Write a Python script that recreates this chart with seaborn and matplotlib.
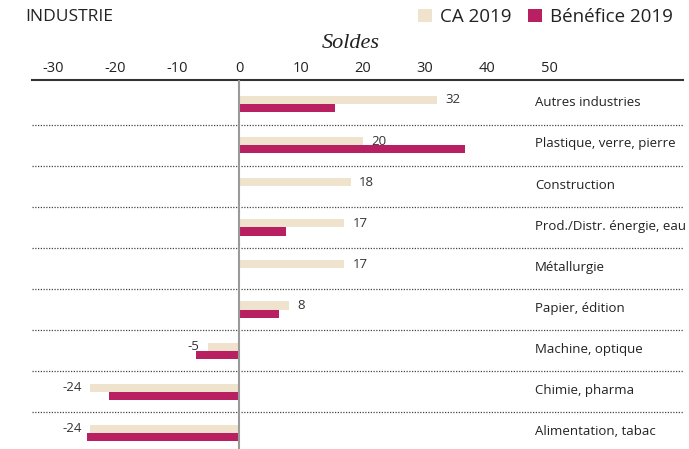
import numpy as np
import pandas as pd
import matplotlib.pyplot as plt
import matplotlib.transforms as mtransforms
from matplotlib.patches import Patch
import seaborn as sns

# data
categories = ["Autres industries", "Plastique, verre, pierre", "Construction",
              "Prod./Distr. énergie, eau", "Métallurgie", "Papier, édition",
              "Machine, optique", "Chimie, pharma", "Alimentation, tabac"]
ca_2019 = [32, 20, 18, 17, 17, 8, -5, -24, -24]
benefice_2019 = [15.5, 36.5, 0, 7.5, 0, 6.5, -7, -21, -24.5]
series = ["CA 2019", "Bénéfice 2019"]
colors = ["#EFE3CE", "#B92062"]
xticks = [-30, -20, -10, 0, 10, 20, 30, 40, 50]

df = pd.DataFrame({
    "Branche": categories * 2,
    "Solde": ca_2019 + benefice_2019,
    "Serie": np.repeat(series, len(categories)),
})

sns.set_style("white")
plt.rcParams["font.family"] = ["Open Sans", "DejaVu Sans"]
plt.rcParams["axes.unicode_minus"] = False
textColor = "#222222"

fig = plt.figure(figsize=(6.89, 4.49), dpi=100)
W, H = 689, 449
ax = fig.add_axes([32 / W, 0, (683 - 32) / W, 1 - 80 / H])

sns.barplot(data=df, y="Branche", x="Solde", hue="Serie", order=categories,
            hue_order=series, palette=colors, saturation=1, orient="h", width=0.4,
            linewidth=0, errorbar=None, legend=False, ax=ax)

# value labels on the CA bars
ax.bar_label(ax.containers[0], labels=[f"{v:g}" for v in ca_2019],
             padding=6, fontsize=9.5, color="#333333")

# row separators and zero line
for i in range(len(categories) - 1):
    ax.axhline(i + 0.5, color="#444444", lw=0.9, ls=(0, (1, 1.2)), zorder=0)
ax.axvline(0, color="#9a9a9a", lw=1.5, zorder=3)

# scales (about 6.2 px per unit, zero at x=239 px)
ax.set_xlim(-33.4, 71.6)
ax.set_ylim(8.39, -0.584)
ax.xaxis.tick_top()
ax.set_xticks(xticks)
ax.tick_params(axis="x", length=0, pad=3, labelsize=10.5, labelcolor=textColor)
ax.set_yticks([])
ax.set_xlabel("")
ax.set_ylabel("")
for side in ["left", "right", "bottom"]:
    ax.spines[side].set_visible(False)
ax.spines["top"].set_color("#333333")
ax.spines["top"].set_linewidth(1.5)

# category names on the right
trans = mtransforms.blended_transform_factory(ax.transAxes, ax.transData)
for i, name in enumerate(categories):
    ax.text((535 - 32) / (683 - 32), i - 0.03, name, transform=trans,
            ha="left", va="center", fontsize=9.5, color=textColor)

# header
fig.text(25 / W, 1 - 17 / H, "INDUSTRIE", ha="left", va="center",
         fontsize=12.5, color=textColor)
fig.text(351 / W, 1 - 44 / H, "Soldes", ha="center", va="center",
         fontsize=16, style="italic", color=textColor,
         family=["Liberation Serif", "DejaVu Serif"])
handles = [Patch(facecolor=c, edgecolor="none") for c in colors]
fig.legend(handles, series, loc="center right", bbox_to_anchor=(680 / W, 1 - 17 / H),
           ncol=2, frameon=False, fontsize=13.5, handlelength=0.75, handleheight=0.75,
           handletextpad=0.43, columnspacing=0.85, borderaxespad=0,
           labelcolor=textColor)

fig.savefig("out.png", dpi=100)
